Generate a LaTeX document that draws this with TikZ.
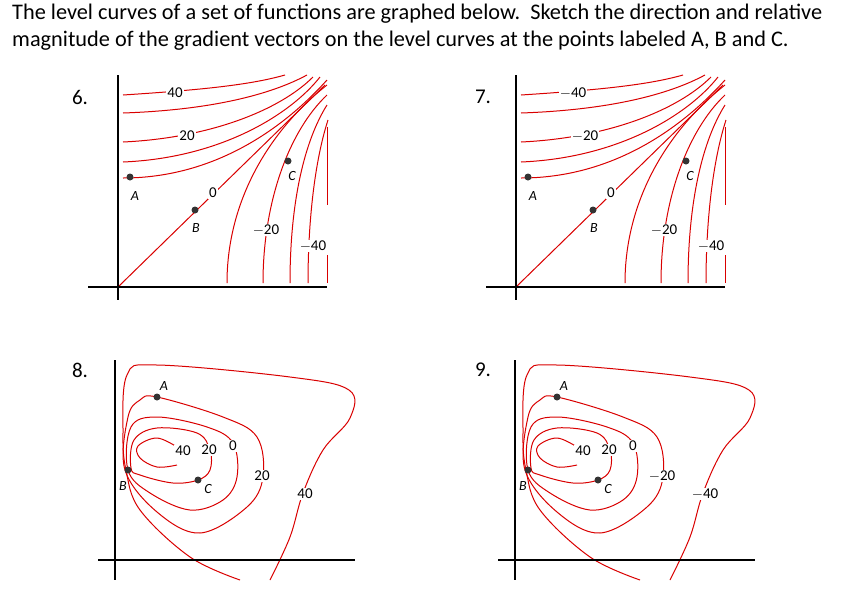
\documentclass[tikz,border=0pt]{standalone}
\usepackage{fontspec}
\setmainfont{Carlito}
\begin{document}
\begin{tikzpicture}[x=1pt,y=-1pt,
 ax/.style={line width=2pt,black},
 lc/.style={red!85!black,line width=1pt},
 lab/.style={fill=white,inner sep=1pt,font=\fontsize{15}{15}\selectfont},
 pl/.style={font=\itshape\fontsize{14}{14}\selectfont,inner sep=1pt},
 pt/.style={circle,fill=black!80,inner sep=0pt,minimum size=7pt},
 num/.style={font=\fontsize{21}{21}\selectfont}]
\useasboundingbox (0,0) rectangle (852,598);
\node[anchor=north west,align=left,font=\fontsize{22.3}{27}\selectfont,inner sep=0pt] (title) at (12,4)
 {The level curves of a set of functions are graphed below.\ \ Sketch the direction and relative\\
 magnitude of the gradient vectors on the level curves at the points labeled A, B and C.};
\newcommand\panelTop[6]{%
 \begin{scope}[xshift=#1]
 \draw[lc] (123,95) .. controls (200,90) and (250,85) .. (285,75);
 \draw[lc] (123,113) .. controls (210,110) and (270,95) .. (307,75);
 \draw[lc] (123,142) .. controls (210,138) and (280,110) .. (313,77);
 \draw[lc] (123,162) .. controls (220,158) and (290,115) .. (320,77);
 \draw[lc] (123,178) .. controls (230,178) and (300,110) .. (327,80);
 \draw[lc] (118,287) -- (325,85);
 \draw[lc] (227,283) .. controls (227,200) and (270,130) .. (327,85);
 \draw[lc] (263,283) .. controls (263,200) and (290,130) .. (327,95);
 \draw[lc] (290,283) .. controls (290,200) and (305,140) .. (327,105);
 \draw[lc] (308,283) .. controls (308,220) and (315,160) .. (328,120);
 \draw[lc] (327,127) -- (327,205);
 \draw[lc] (327,255) -- (327,283);
 \node[lab] (l1) at (175,93) {#2};
 \node[lab] (l2) at (187,136) {#3};
 \node[lab] (l3) at (213,193) {0};
 \node[lab] (l4) at (266,230) {#4};
 \node[lab] (l5) at (313,246) {#5};
 \draw[ax] (118,75) -- (118,300);
 \draw[ax] (88,287) -- (327,287);
 \node[pt] (A) at (130,177) {}; \node[pl] (la) at (135,196) {A};
 \node[pt] (B) at (195,210) {}; \node[pl] (lb) at (196,228) {B};
 \node[pt] (C) at (288,161) {}; \node[pl] (lc) at (292,176) {C};
 \end{scope}}
\newcommand\panelBot[3]{%
 \begin{scope}[xshift=#1]
 \draw[lc] plot[smooth,tension=0.6] coordinates {(270,580) (290,537) (303,493) (323,450) (350,418) (349,390) (290,377) (157,365) (127,375) (123,433) (126,470) (140,510) (190,557) (240,580)};
 \draw[lc] plot[smooth cycle,tension=0.6] coordinates {(125,470) (128,417) (140,400) (157,397) (223,417) (257,437) (263,477) (247,507) (200,533) (157,512)};
 \draw[lc] plot[smooth cycle,tension=0.6] coordinates {(128,470) (131,427) (157,417) (207,427) (233,443) (237,477) (223,500) (190,510) (150,493)};
 \draw[lc] plot[smooth cycle,tension=0.6] coordinates {(131,468) (134,440) (157,428) (197,433) (210,450) (210,470) (198,480) (173,483) (140,475)};
 \draw[lc] plot[smooth,tension=0.6] coordinates {(177,465) (157,467) (140,458) (138,446) (157,438) (177,447)};
 \node[lab] (m1) at (183,451) {40};
 \node[lab] (m2) at (209,450) {20};
 \node[lab] (m3) at (233,446) {0};
 \node[lab] (m4) at (262,476) {#2};
 \node[lab] (m5) at (305,494) {#3};
 \draw[ax] (115,360) -- (115,580);
 \draw[ax] (98,560) -- (355,560);
 \node[pt] (A) at (157,397) {}; \node[pl] (la) at (164,386) {A};
 \node[pt] (B) at (128,470) {}; \node[pl] (lb) at (123,486) {B};
 \node[pt] (C) at (198,480) {}; \node[pl] (lc) at (208,489) {C};
 \end{scope}}
\panelTop{0}{40}{20}{$-$20}{$-$40}{}
\panelTop{398}{$-$40}{$-$20}{$-$20}{$-$40}{}
\panelBot{0}{20}{40}
\panelBot{400}{$-$20}{$-$40}
\node[num] (n6) at (80,97) {6.};
\node[num] (n7) at (483,97) {7.};
\node[num] (n8) at (80,370) {8.};
\node[num] (n9) at (483,370) {9.};
\end{tikzpicture}
\end{document}
